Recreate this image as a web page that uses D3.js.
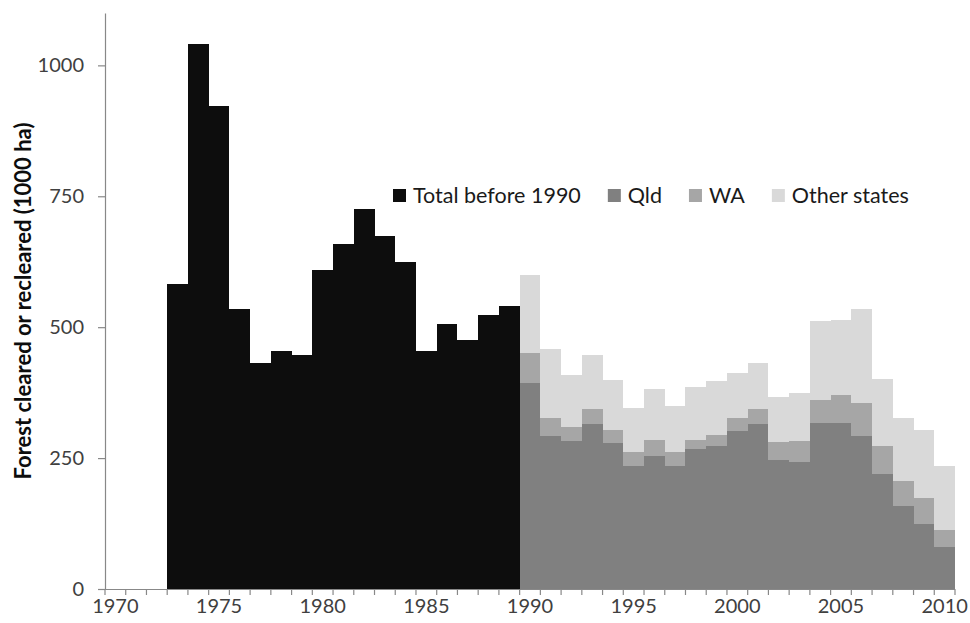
<!DOCTYPE html>
<html>
<head>
<meta charset="utf-8">
<script src="https://cdn.jsdelivr.net/npm/d3@7"></script>
<style>
  html, body { margin: 0; padding: 0; background: #fff; }
  svg { display: block; }
  text { font-family: Lato, "Open Sans", sans-serif; }
</style>
</head>
<body>
<svg id="chart" width="970" height="623"></svg>
<script>
// ---- Data ----
const allYears = d3.range(1970, 2011);
const preYears = d3.range(1973, 1990);
const preTotal = [582, 1040, 922, 534, 432, 454, 446, 609, 658, 725, 674, 625, 455, 507, 475, 524, 541];
const postYears = d3.range(1990, 2011);
const qld   = [393, 292, 283, 316, 278, 234, 254, 234, 267, 274, 301, 315, 247, 243, 317, 317, 293, 220, 159, 124, 81];
const wa    = [58, 35, 26, 27, 26, 28, 31, 28, 18, 20, 26, 28, 34, 39, 44, 53, 63, 54, 48, 49, 32];
const other = [148, 131, 100, 104, 96, 84, 97, 87, 101, 103, 86, 89, 85, 92, 150, 144, 179, 127, 120, 131, 122];
const yTicks = [0, 250, 500, 750, 1000];
const xLabelYears = [1970, 1975, 1980, 1985, 1990, 1995, 2000, 2005, 2010];
const seriesKeys = ["Qld", "WA", "Other states"];
const legendLabels = ["Total before 1990", "Qld", "WA", "Other states"];
const colors = { "Total before 1990": "#0d0d0d", "Qld": "#808080", "WA": "#a6a6a6", "Other states": "#d9d9d9" };
const yTitle = "Forest cleared or recleared (1000 ha)";

// ---- Layout ----
const svg = d3.select("#chart");
const mLeft = 105, mRight = 955, mTop = 13, mBottom = 589;

const x = d3.scaleBand().domain(allYears).range([mLeft, mRight]).padding(0);
const y = d3.scaleLinear().domain([0, 1100]).range([mBottom, mTop]);

// Pre-1990 bars
svg.append("g").attr("shape-rendering", "crispEdges").selectAll("rect")
  .data(preYears.map((yr, i) => ({ yr, v: preTotal[i] })))
  .join("rect")
  .attr("x", d => x(d.yr))
  .attr("width", x.bandwidth())
  .attr("y", d => y(d.v))
  .attr("height", d => y(0) - y(d.v))
  .attr("fill", colors["Total before 1990"]);

// Stacked post-1990
const table = postYears.map((yr, i) => ({ yr, "Qld": qld[i], "WA": wa[i], "Other states": other[i] }));
const stacked = d3.stack().keys(seriesKeys)(table);
svg.append("g").attr("shape-rendering", "crispEdges").selectAll("g")
  .data(stacked)
  .join("g")
  .attr("fill", s => colors[s.key])
  .selectAll("rect")
  .data(s => s)
  .join("rect")
  .attr("x", d => x(d.data.yr))
  .attr("width", x.bandwidth())
  .attr("y", d => y(d[1]))
  .attr("height", d => y(d[0]) - y(d[1]));

// Y axis
const yAxis = svg.append("g")
  .attr("transform", `translate(${mLeft},0)`)
  .call(d3.axisLeft(y).tickValues(yTicks).tickFormat(d3.format("d")).tickSize(7).tickSizeOuter(0).tickPadding(14));
yAxis.select(".domain").attr("stroke", "#888").attr("stroke-width", 1.2);
yAxis.selectAll(".tick line").attr("stroke", "#888").attr("stroke-width", 1.2);
yAxis.selectAll(".tick text").attr("fill", "#404040").style("font-size", "20px").style("font-family", "Lato, 'Open Sans', sans-serif");

// X axis
const xAxis = svg.append("g")
  .attr("transform", `translate(0,${mBottom})`)
  .call(d3.axisBottom(x).tickValues(xLabelYears).tickSize(0).tickSizeOuter(0).tickPadding(10));
xAxis.select(".domain").attr("stroke", "#888").attr("stroke-width", 1.2).attr("d", `M${mLeft - 7},0.5H${mRight}`);
xAxis.selectAll(".tick text").attr("fill", "#404040").style("font-size", "20px").style("font-family", "Lato, 'Open Sans', sans-serif");
// category boundary ticks
svg.append("g").selectAll("line")
  .data(allYears.map(yr => x(yr)).concat([x(allYears[allYears.length - 1]) + x.bandwidth()]))
  .join("line")
  .attr("x1", d => d).attr("x2", d => d)
  .attr("y1", mBottom).attr("y2", mBottom + 6)
  .attr("stroke", "#888").attr("stroke-width", 1.2);

// Y title
svg.append("text")
  .attr("transform", `translate(31,${(mTop + mBottom) / 2}) rotate(-90)`)
  .attr("text-anchor", "middle")
  .attr("fill", "#0d0d0d")
  .style("font-size", "22px")
  .style("font-weight", "bold")
  .text(yTitle);

// Legend
const legend = svg.append("g").attr("transform", "translate(393,195.5)");
let lx = 0;
legendLabels.forEach(lbl => {
  const g = legend.append("g").attr("transform", `translate(${lx},0)`);
  g.append("rect").attr("x", 0).attr("y", -6.5).attr("width", 13).attr("height", 13).attr("fill", colors[lbl]);
  const t = g.append("text").attr("x", 20).attr("y", 7).attr("fill", "#1a1a1a").style("font-size", "21.5px").text(lbl);
  lx += 20 + t.node().getComputedTextLength() + 27;
});
</script>
</body>
</html>
